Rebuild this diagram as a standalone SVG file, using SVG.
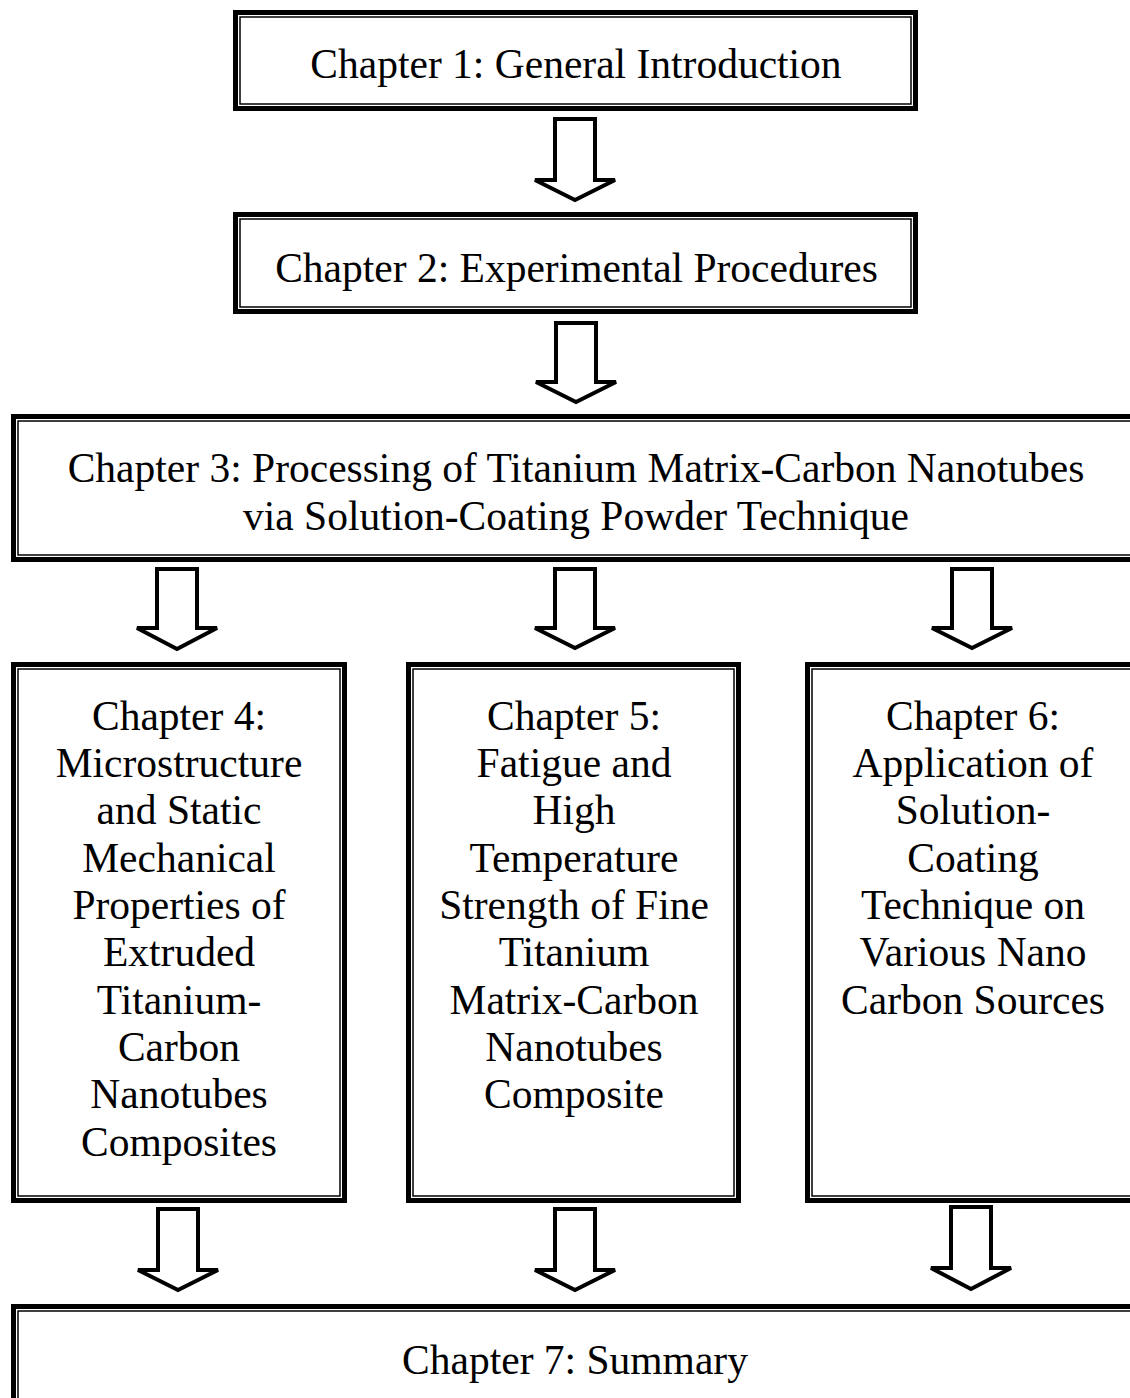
<svg xmlns="http://www.w3.org/2000/svg" width="1130" height="1398" viewBox="0 0 1130 1398">
<style>
.outer{fill:none;stroke:#000;stroke-width:5}
.inner{fill:none;stroke:#000;stroke-width:1.5}
.bg{fill:#fff;stroke:none}
.t{font-family:"Liberation Serif","Times New Roman",serif;font-size:41.5px;fill:#000;text-anchor:middle}
.arrow{fill:#fff;stroke:#000;stroke-width:4;stroke-linejoin:miter}
</style>
<rect class="bg" x="0" y="0" width="1130" height="1398"/>
<g id="connectors">
<polygon class="arrow" points="555,119 595,119 595,180 615,180 575,200 535,180 555,180"/>
<polygon class="arrow" points="556,323 596,323 596,382 616,382 576,402 536,382 556,382"/>
<polygon class="arrow" points="157,569 197,569 197,628 217,628 177,649 137,628 157,628"/>
<polygon class="arrow" points="555,569 595,569 595,628 615,628 575,648 535,628 555,628"/>
<polygon class="arrow" points="952,569 992,569 992,628 1012,628 972,648 932,628 952,628"/>
<polygon class="arrow" points="158,1209 198,1209 198,1270 218,1270 178,1290 138,1270 158,1270"/>
<polygon class="arrow" points="555,1209 595,1209 595,1270 615,1270 575,1290 535,1270 555,1270"/>
<polygon class="arrow" points="951,1207 991,1207 991,1268 1011,1268 971,1289 931,1268 951,1268"/>
</g>
<g id="ch1">
<rect class="outer" x="235.5" y="12.5" width="680" height="96"/>
<rect class="inner" x="240" y="17" width="671" height="87"/>
<text class="t" x="576" y="78">Chapter 1: General Introduction</text>
</g>
<g id="ch2">
<rect class="outer" x="235.5" y="214.5" width="680" height="97"/>
<rect class="inner" x="240" y="219" width="671" height="88"/>
<text class="t" x="576.5" y="282">Chapter 2: Experimental Procedures</text>
</g>
<g id="ch3">
<rect class="outer" x="13.5" y="416.5" width="1129" height="143"/>
<rect class="inner" x="18" y="421" width="1120" height="134"/>
<text class="t" x="576" y="482">Chapter 3: Processing of Titanium Matrix-Carbon Nanotubes</text>
<text class="t" x="576" y="530">via Solution-Coating Powder Technique</text>
</g>
<g id="ch4">
<rect class="outer" x="13.5" y="664.5" width="331" height="536"/>
<rect class="inner" x="18" y="669" width="322" height="527"/>
<text class="t" x="179" y="730">Chapter 4:</text>
<text class="t" x="179" y="777">Microstructure</text>
<text class="t" x="179" y="824">and Static</text>
<text class="t" x="179" y="872">Mechanical</text>
<text class="t" x="179" y="919">Properties of</text>
<text class="t" x="179" y="966">Extruded</text>
<text class="t" x="179" y="1014">Titanium-</text>
<text class="t" x="179" y="1061">Carbon</text>
<text class="t" x="179" y="1108">Nanotubes</text>
<text class="t" x="179" y="1156">Composites</text>
</g>
<g id="ch5">
<rect class="outer" x="408.5" y="664.5" width="330" height="536"/>
<rect class="inner" x="413" y="669" width="321" height="527"/>
<text class="t" x="574" y="730">Chapter 5:</text>
<text class="t" x="574" y="777">Fatigue and</text>
<text class="t" x="574" y="824">High</text>
<text class="t" x="574" y="872">Temperature</text>
<text class="t" x="574" y="919">Strength of Fine</text>
<text class="t" x="574" y="966">Titanium</text>
<text class="t" x="574" y="1014">Matrix-Carbon</text>
<text class="t" x="574" y="1061">Nanotubes</text>
<text class="t" x="574" y="1108">Composite</text>
</g>
<g id="ch6">
<rect class="outer" x="807.5" y="664.5" width="335" height="536"/>
<rect class="inner" x="812" y="669" width="326" height="527"/>
<text class="t" x="973" y="730">Chapter 6:</text>
<text class="t" x="973" y="777">Application of</text>
<text class="t" x="973" y="824">Solution-</text>
<text class="t" x="973" y="872">Coating</text>
<text class="t" x="973" y="919">Technique on</text>
<text class="t" x="973" y="966">Various Nano</text>
<text class="t" x="973" y="1014">Carbon Sources</text>
</g>
<g id="ch7">
<rect class="outer" x="13.5" y="1306.5" width="1129" height="111"/>
<rect class="inner" x="18" y="1311" width="1120" height="102"/>
<text class="t" x="575" y="1374">Chapter 7: Summary</text>
</g>
</svg>
